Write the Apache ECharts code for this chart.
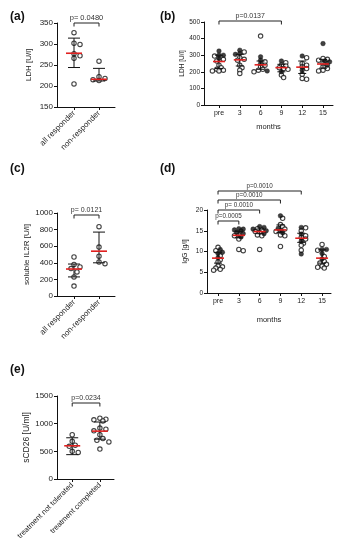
<!DOCTYPE html>
<html><head><meta charset="utf-8">
<script src="https://cdn.jsdelivr.net/npm/echarts@6/dist/echarts.min.js"></script>
<style>html,body{margin:0;padding:0;background:#fff}#c{width:342px;height:550px}</style>
</head><body><div id="c"></div>
<script>
// ---------- DATA ----------
// (a) LDH by response
const respCats = ['all responder', 'non-responder'];
const ldhResponder = [327, 302, 299, 277, 272, 266, 205];
const ldhNonResponder = [259, 222, 218, 215, 213];
const ldhRespCenter = [278, 216];
const ldhRespLow = [244, 212];
const ldhRespHigh = [314, 242];
const pA = 'p= 0.0480';

// (b) LDH over months
const months = ['pre', '3', '6', '9', '12', '15'];
const ldhMonthFilled = [
  [325, 300, 300, 280],
  [330, 310, 305],
  [290, 270, 250, 205],
  [265, 200],
  [295, 210],
  [370, 265, 260, 240]
];
const ldhMonthHollow = [
  [295, 275, 265, 240, 225, 215, 210, 205, 205],
  [320, 285, 275, 270, 240, 225, 210, 190],
  [415, 260, 240, 230, 215, 210, 200],
  [255, 240, 235, 225, 220, 215, 180, 165],
  [285, 250, 240, 230, 220, 185, 160, 155],
  [280, 275, 270, 250, 230, 220, 210, 205]
];
const ldhMonthCenter = [262, 272, 242, 225, 228, 247];
const ldhMonthLow = [220, 235, 215, 200, 190, 222];
const ldhMonthHigh = [300, 305, 265, 245, 265, 275];
const pB = 'p=0.0137';

// (c) soluble IL2R by response
const il2rResponder = [470, 380, 350, 330, 290, 230, 120];
const il2rNonResponder = [835, 590, 480, 410, 390];
const il2rCenter = [325, 540];
const il2rLow = [230, 400];
const il2rHigh = [385, 770];
const pC = 'p= 0.0121';

// (d) IgG over months
const iggFilled = [
  [10.5, 9.8, 9.5, 8.5],
  [15.5, 15.4, 15.2, 15.0, 14.6, 14.3, 13.5],
  [16.0, 15.8, 15.4, 15.0, 14.3],
  [18.6, 15.6, 15.0, 14.5],
  [15.8, 14.2, 12.5, 9.4],
  [10.5, 10.5, 9.5, 8.2]
];
const iggHollow = [
  [11.0, 10.2, 9.0, 8.0, 7.5, 6.5, 6.3, 6.0, 5.7, 5.5],
  [14.0, 13.8, 13.0, 10.5, 10.2],
  [15.5, 15.2, 14.8, 14.6, 14.0, 13.8, 10.5],
  [18.0, 16.5, 16.0, 15.4, 14.8, 14.0, 13.8, 11.2],
  [15.7, 15.0, 13.8, 13.4, 13.0, 12.0, 11.5, 10.3],
  [11.7, 10.3, 8.8, 7.6, 7.2, 6.9, 6.5, 6.2, 6.0]
];
const iggCenter = [8.4, 13.9, 14.8, 15.2, 13.2, 8.4];
const iggLow = [7.2, 13.3, 14.3, 14.6, 12.2, 7.2];
const iggHigh = [9.8, 14.8, 15.4, 16.4, 14.4, 10.4];
const iggBrackets = [[0, 1, 'p=0.0005'], [0, 2, 'p= 0.0010'], [0, 3, 'p=0.0010'], [0, 4, 'p=0.0010']];

// (e) sCD26 by treatment
const treatCats = ['treatment not tolerated', 'treatment completed'];
const cd26NotTolerated = [800, 680, 610, 590, 500, 480];
const cd26Completed = [1100, 1080, 1070, 1050, 920, 900, 870, 800, 730, 700, 670, 540];
const cd26Center = [600, 865];
const cd26Low = [440, 720];
const cd26High = [745, 1030];
const pE = 'p=0.0234';

// ---------- LAYOUT ----------
const FONT = 'Liberation Sans, Arial, sans-serif';
const RED = '#e0201f';
const panels = [
  {id:'a', title:'(a)', tx:5, ty:6, left:57, top:23, width:58, height:84, xmin:-0.68, xmax:1.64, ymin:150, ymax:350, yint:50,
   cats:respCats, yname:'LDH [U/l]', nameGap:24, nameSize:8, tickSize:8, catSize:8, rotate:45, xname:'',
   cap:6, red:8, step:3, minD:4.6, pSize:7.5, brOff:[0]},
  {id:'b', title:'(b)', tx:155, ty:6, left:204, top:22, width:129, height:83, xmin:-0.72, xmax:5.48, ymin:0, ymax:500, yint:100,
   cats:months, yname:'LDH [U/l]', nameGap:17, nameSize:6.5, tickSize:6.5, catSize:7, rotate:0, xname:'months', xnameGap:18,
   cap:4, red:6, step:2.2, minD:3.0, pSize:7, brOff:[-1]},
  {id:'c', title:'(c)', tx:5, ty:158, left:57, top:213, width:58, height:83, xmin:-0.68, xmax:1.64, ymin:0, ymax:1000, yint:200,
   cats:respCats, yname:'soluble IL2R [U/l]', nameGap:26, nameSize:8, tickSize:8, catSize:8, rotate:45, xname:'',
   cap:6, red:8, step:3, minD:4.6, pSize:7, brOff:[2]},
  {id:'d', title:'(d)', tx:155, ty:158, left:207, top:210, width:124, height:83, xmin:-0.53, xmax:5.43, ymin:0, ymax:20, yint:5,
   cats:months, yname:'IgG [g/l]', nameGap:18, nameSize:7, tickSize:6.5, catSize:7, rotate:0, xname:'months', xnameGap:23,
   cap:4, red:6, step:2.2, minD:3.0, pSize:6.3, brOff:[11, 0, -10, -19]},
  {id:'e', title:'(e)', tx:5, ty:359, left:57, top:396, width:57, height:83, xmin:-0.55, xmax:1.51, ymin:0, ymax:1500, yint:500,
   cats:treatCats, yname:'sCD26 [U/ml]', nameGap:26, nameSize:8.5, tickSize:8, catSize:7.5, rotate:45, xname:'',
   cap:6, red:8, step:3, minD:4.6, pSize:7, brOff:[7]}
];

// beeswarm layout: returns [x, y] points for one category
function swarm(P, ci, items) {
  const py = P.height / (P.ymax - P.ymin), px = P.width / (P.xmax - P.xmin);
  const sorted = items.slice().sort((u, v) => v.v - u.v);
  const placed = [];
  const ks = [0, 1, -1, 2, -2, 3, -3];
  sorted.forEach(it => {
    const y = it.v * py;
    let best = null, bestD = -1;
    for (const k of ks) {
      const dx = k * P.step;
      const d = placed.length ? Math.min(...placed.map(p => Math.hypot(p.dx - dx, p.y - y))) : 1e9;
      if (d >= P.minD) { best = dx; break; }
      if (d > bestD) { bestD = d; best = dx; }
    }
    placed.push({dx: best, y, it});
  });
  return placed.map(p => ({x: ci + p.dx / px, v: p.it.v, filled: p.it.filled}));
}

function groupsOf(filledArr, hollowArr) {
  return filledArr.map((f, i) => f.map(v => ({v, filled:true})).concat(hollowArr[i].map(v => ({v, filled:false}))));
}

const datasets = {
  a: {groups: groupsOf([[], []], [ldhResponder, ldhNonResponder]), c: ldhRespCenter, lo: ldhRespLow, hi: ldhRespHigh, br: [[0, 1, pA]]},
  b: {groups: groupsOf(ldhMonthFilled, ldhMonthHollow), c: ldhMonthCenter, lo: ldhMonthLow, hi: ldhMonthHigh, br: [[0, 3, pB]]},
  c: {groups: groupsOf([[], []], [il2rResponder, il2rNonResponder]), c: il2rCenter, lo: il2rLow, hi: il2rHigh, br: [[0, 1, pC]]},
  d: {groups: groupsOf(iggFilled, iggHollow), c: iggCenter, lo: iggLow, hi: iggHigh, br: iggBrackets},
  e: {groups: groupsOf([[], []], [cd26NotTolerated, cd26Completed]), c: cd26Center, lo: cd26Low, hi: cd26High, br: [[0, 1, pE]]}
};

const grid = [], xAxis = [], yAxis = [], series = [], title = [];
panels.forEach((P, gi) => {
  const D = datasets[P.id];
  title.push({text: P.title, left: P.tx, top: P.ty, textStyle: {fontFamily: FONT, fontWeight: 'bold', fontSize: 12, color: '#111'}});
  grid.push({left: P.left, top: P.top, width: P.width, height: P.height, containLabel: false});
  const ticks = P.cats.map((_, i) => i);
  xAxis.push({
    gridIndex: gi, type: 'value', min: P.xmin, max: P.xmax,
    axisLine: {onZero: false, lineStyle: {color: '#111', width: 1}},
    axisTick: {customValues: ticks, length: 3, lineStyle: {color: '#111'}},
    axisLabel: {customValues: ticks, formatter: v => P.cats[Math.round(v)], rotate: P.rotate, margin: 5,
      fontFamily: FONT, fontSize: P.catSize, color: '#222'},
    splitLine: {show: false},
    name: P.xname, nameLocation: 'middle', nameGap: P.xnameGap || 20,
    nameTextStyle: {fontFamily: FONT, fontSize: 7.5, color: '#222'}
  });
  yAxis.push({
    gridIndex: gi, type: 'value', min: P.ymin, max: P.ymax, interval: P.yint,
    axisLine: {show: true, onZero: false, lineStyle: {color: '#111', width: 1}},
    axisTick: {show: true, length: 3, lineStyle: {color: '#111'}},
    axisLabel: {fontFamily: FONT, fontSize: P.tickSize, color: '#222', margin: 4, formatter: v => String(v)},
    splitLine: {show: false},
    name: P.yname, nameLocation: 'middle', nameGap: P.nameGap, nameRotate: 90,
    nameTextStyle: {fontFamily: FONT, fontSize: P.nameSize, color: '#222'}
  });
  // points
  const pts = [];
  D.groups.forEach((g, ci) => swarm(P, ci, g).forEach(p => pts.push(p)));
  series.push({
    type: 'scatter', xAxisIndex: gi, yAxisIndex: gi, symbol: 'circle', symbolSize: 4.4,
    data: pts.filter(p => !p.filled).map(p => [p.x, p.v]),
    itemStyle: {color: '#fff', borderColor: '#111', borderWidth: 1.1}, silent: true, z: 2
  });
  series.push({
    type: 'scatter', xAxisIndex: gi, yAxisIndex: gi, symbol: 'circle', symbolSize: 4.6,
    data: pts.filter(p => p.filled).map(p => [p.x, p.v]),
    itemStyle: {color: '#111', borderColor: '#111', borderWidth: 0.5}, silent: true, z: 3
  });
  // error bars + red centre line
  series.push({
    type: 'custom', xAxisIndex: gi, yAxisIndex: gi, silent: true, z: 4,
    data: D.c.map((c, i) => [i, c, D.lo[i], D.hi[i]]),
    encode: {x: 0, y: [1, 2, 3]},
    renderItem: (params, api) => {
      const x = api.value(0);
      const c = api.coord([x, api.value(1)]);
      const lo = api.coord([x, api.value(2)]);
      const hi = api.coord([x, api.value(3)]);
      const ls = {stroke: '#111', lineWidth: 1};
      return {type: 'group', children: [
        {type: 'line', shape: {x1: lo[0], y1: lo[1], x2: hi[0], y2: hi[1]}, style: ls},
        {type: 'line', shape: {x1: lo[0] - P.cap, y1: lo[1], x2: lo[0] + P.cap, y2: lo[1]}, style: ls},
        {type: 'line', shape: {x1: hi[0] - P.cap, y1: hi[1], x2: hi[0] + P.cap, y2: hi[1]}, style: ls},
        {type: 'line', shape: {x1: c[0] - P.red, y1: c[1], x2: c[0] + P.red, y2: c[1]}, style: {stroke: RED, lineWidth: 1.6}}
      ]};
    }
  });
  // significance brackets
  series.push({
    type: 'custom', xAxisIndex: gi, yAxisIndex: gi, silent: true, z: 5, clip: false,
    data: D.br.map((b, k) => [b[0], b[1], k]),
    encode: {x: [0, 1]},
    renderItem: (params, api) => {
      const a = api.coord([api.value(0), P.ymax]);
      const b = api.coord([api.value(1), P.ymax]);
      const k = api.value(2);
      const y = P.top + P.brOff[k];
      const ls = {stroke: '#222', lineWidth: 1};
      return {type: 'group', children: [
        {type: 'line', shape: {x1: a[0], y1: y, x2: b[0], y2: y}, style: ls},
        {type: 'line', shape: {x1: a[0], y1: y, x2: a[0], y2: y + 3.5}, style: ls},
        {type: 'line', shape: {x1: b[0], y1: y, x2: b[0], y2: y + 3.5}, style: ls},
        {type: 'text', x: (a[0] + b[0]) / 2, y: y - 1.5,
         style: {text: D.br[k][2], align: 'center', verticalAlign: 'bottom', fontFamily: FONT, fontSize: P.pSize, fill: '#333'}}
      ]};
    }
  });
});

const chart = echarts.init(document.getElementById('c'), null, {renderer: 'canvas'});
chart.setOption({animation: false, backgroundColor: '#fff', title, grid, xAxis, yAxis, series});
</script></body></html>
